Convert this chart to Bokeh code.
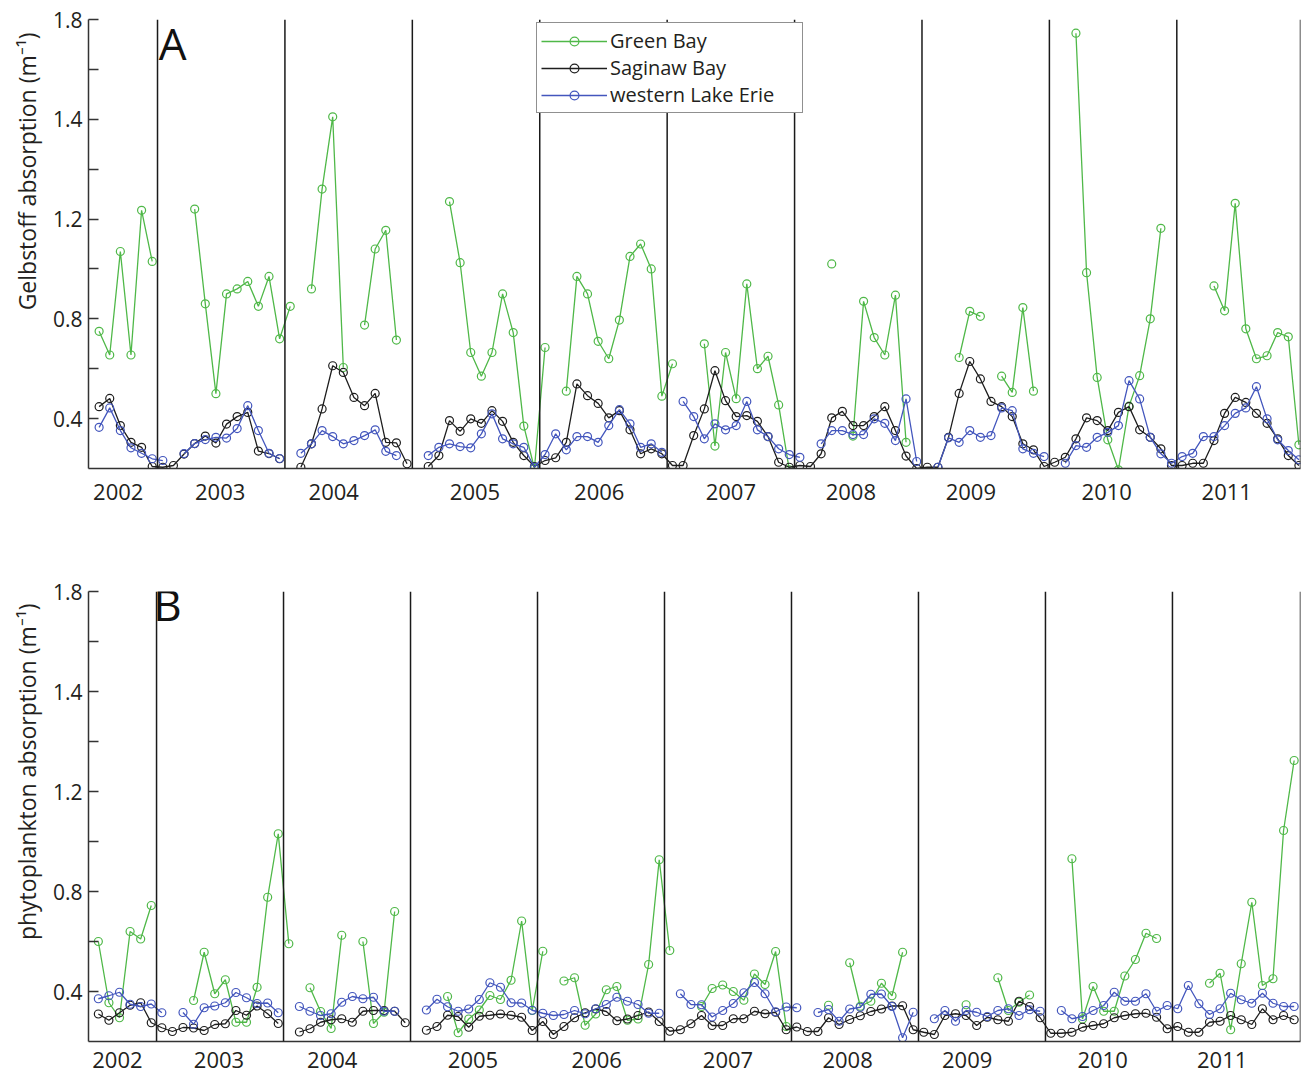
import math
import numpy as np
from bokeh.plotting import figure
from bokeh.layouts import column
from bokeh.models import FixedTicker, Span, Legend, LegendItem, Label, Title
from bokeh.embed import file_html
from bokeh.resources import INLINE

NA = None

# month index: 0 = Jan 2002 ; data run Jul 2002 (6) .. Dec 2011 (119)
months = list(range(6, 120))

year_labels = ["2002", "2003", "2004", "2005", "2006", "2007", "2008", "2009", "2010", "2011"]
year_tick_pos = [7.8, 17.4, 28.1, 41.4, 53.1, 65.5, 76.8, 88.1, 100.9, 112.2]
year_bounds = [11.5, 23.5, 35.5, 47.5, 59.5, 71.5, 83.5, 95.5, 107.5]

y_tick_values = [0.4, 0.6, 0.8, 1.0, 1.2, 1.4, 1.6, 1.8, 2.0]
y_tick_labels = ["0.4", "", "0.8", "", "1.2", "", "1.4", "", "1.8"]

series_names = ["Green Bay", "Saginaw Bay", "western Lake Erie"]

# ---- Panel A: Gelbstoff absorption ----
gelb_green = [
    0.75, 0.655, 1.07, 0.655, 1.235, 1.03,
    NA, NA, NA, 1.24, 0.86, 0.50, 0.90, 0.92, 0.95, 0.85, 0.97, 0.72,
    0.85, NA, 0.92, 1.32, 1.61, 0.605, NA, 0.775, 1.08, 1.155, 0.715, NA,
    NA, NA, NA, 1.27, 1.025, 0.665, 0.57, 0.665, 0.90, 0.745, 0.37, 0.20,
    0.685, NA, 0.51, 0.97, 0.90, 0.71, 0.64, 0.795, 1.05, 1.10, 1.00, 0.49,
    0.62, NA, NA, 0.70, 0.29, 0.665, 0.48, 0.94, 0.60, 0.65, 0.455, 0.195,
    NA, NA, NA, 1.02, NA, 0.33, 0.87, 0.725, 0.655, 0.895, 0.305, NA,
    NA, NA, NA, 0.645, 0.83, 0.81, NA, 0.57, 0.505, 0.845, 0.51, NA,
    NA, NA, 1.945, 0.985, 0.565, 0.315, 0.195, 0.45, 0.572, 0.80, 1.163, NA,
    NA, NA, NA, 0.932, 0.832, 1.263, 0.76, 0.64, 0.652, 0.745, 0.728, 0.295,
]
gelb_black = [
    0.448, 0.481, 0.372, 0.305, 0.285, 0.208,
    0.205, 0.212, 0.258, 0.30, 0.33, 0.302, 0.378, 0.408, 0.425, 0.27, 0.26, 0.239,
    NA, 0.205, 0.299, 0.439, 0.612, 0.585, 0.485, 0.452, 0.501, 0.305, 0.303, 0.219,
    NA, 0.208, 0.252, 0.392, 0.349, 0.399, 0.381, 0.432, 0.389, 0.305, 0.252, 0.208,
    0.232, 0.243, 0.305, 0.539, 0.492, 0.461, 0.403, 0.432, 0.355, 0.259, 0.279, 0.259,
    0.212, 0.212, 0.332, 0.439, 0.592, 0.472, 0.408, 0.412, 0.389, 0.328, 0.225, 0.205,
    0.212, 0.208, 0.259, 0.403, 0.429, 0.372, 0.372, 0.408, 0.448, 0.352, 0.25, 0.20,
    0.205, 0.205, 0.325, 0.501, 0.629, 0.559, 0.469, 0.448, 0.408, 0.299, 0.275, 0.208,
    0.225, 0.245, 0.319, 0.403, 0.392, 0.352, 0.425, 0.448, 0.355, 0.325, 0.279, 0.212,
    0.212, 0.221, 0.221, 0.312, 0.421, 0.485, 0.465, 0.421, 0.381, 0.319, 0.252, 0.212,
]
gelb_blue = [
    0.365, 0.443, 0.352, 0.283, 0.261, 0.239,
    0.232, NA, 0.26, 0.30, 0.316, 0.325, 0.322, 0.36, 0.452, 0.352, 0.261, 0.24,
    NA, 0.261, 0.299, 0.352, 0.328, 0.299, 0.312, 0.332, 0.355, 0.269, 0.252, NA,
    NA, 0.252, 0.285, 0.299, 0.288, 0.283, 0.339, 0.419, 0.319, 0.299, 0.285, 0.205,
    0.256, 0.339, 0.275, 0.328, 0.328, 0.305, 0.372, 0.436, 0.379, 0.285, 0.299, 0.265,
    NA, 0.469, 0.408, 0.319, 0.379, 0.355, 0.372, 0.469, 0.355, 0.328, 0.279, 0.256,
    0.245, NA, 0.299, 0.352, 0.352, 0.336, 0.336, 0.399, 0.381, 0.312, 0.479, 0.228,
    NA, 0.205, 0.323, 0.305, 0.352, 0.325, 0.332, 0.443, 0.432, 0.279, 0.261, 0.248,
    NA, 0.221, 0.292, 0.285, 0.325, 0.345, 0.372, 0.552, 0.479, 0.325, 0.259, 0.221,
    0.248, 0.261, 0.328, 0.328, 0.372, 0.421, 0.443, 0.528, 0.399, 0.315, 0.272, 0.235,
]

# ---- Panel B: phytoplankton absorption ----
phyto_green = [
    0.60, 0.355, 0.295, 0.64, 0.61, 0.744,
    NA, NA, NA, 0.364, 0.557, 0.391, 0.447, 0.277, 0.277, 0.417, 0.777, 1.031,
    0.591, NA, 0.415, 0.32, 0.252, 0.625, NA, 0.60, 0.272, 0.317, 0.72, NA,
    NA, NA, NA, 0.38, 0.235, 0.29, 0.326, 0.384, 0.368, 0.445, 0.682, 0.324,
    0.561, NA, 0.442, 0.455, 0.265, 0.31, 0.407, 0.42, 0.285, 0.29, 0.508, 0.927,
    0.564, NA, NA, 0.34, 0.412, 0.426, 0.40, 0.365, 0.47, 0.428, 0.56, 0.26,
    NA, NA, NA, 0.345, NA, 0.515, 0.341, 0.361, 0.433, 0.383, 0.557, NA,
    NA, NA, NA, NA, 0.347, NA, NA, 0.455, 0.324, 0.357, 0.386, NA,
    NA, NA, 0.931, 0.29, 0.42, 0.321, 0.321, 0.462, 0.528, 0.633, 0.612, NA,
    NA, NA, NA, 0.433, 0.473, 0.247, 0.511, 0.757, 0.424, 0.451, 1.044, 1.324,
]
phyto_black = [
    0.31, 0.285, 0.315, 0.345, 0.355, 0.275,
    0.255, 0.24, 0.256, 0.254, 0.244, 0.268, 0.271, 0.324, 0.305, 0.342, 0.311, 0.272,
    NA, 0.238, 0.251, 0.277, 0.287, 0.291, 0.277, 0.321, 0.324, 0.324, 0.321, 0.275,
    NA, 0.245, 0.26, 0.305, 0.30, 0.257, 0.301, 0.305, 0.31, 0.305, 0.297, 0.244,
    0.28, 0.228, 0.26, 0.295, 0.315, 0.33, 0.32, 0.283, 0.29, 0.304, 0.318, 0.28,
    0.241, 0.247, 0.271, 0.304, 0.264, 0.264, 0.291, 0.291, 0.321, 0.311, 0.317, 0.247,
    0.258, 0.24, 0.24, 0.295, 0.268, 0.288, 0.303, 0.32, 0.33, 0.342, 0.343, 0.247,
    0.237, 0.228, 0.304, 0.311, 0.304, 0.264, 0.297, 0.287, 0.281, 0.361, 0.34, 0.295,
    0.233, 0.233, 0.237, 0.257, 0.264, 0.271, 0.295, 0.304, 0.311, 0.313, 0.297, 0.251,
    0.26, 0.237, 0.237, 0.277, 0.281, 0.304, 0.287, 0.268, 0.331, 0.287, 0.304, 0.287,
]
phyto_blue = [
    0.371, 0.383, 0.397, 0.349, 0.34, 0.35,
    0.315, NA, 0.316, 0.269, 0.335, 0.342, 0.355, 0.396, 0.375, 0.352, 0.354, 0.315,
    NA, 0.34, 0.321, 0.304, 0.311, 0.357, 0.38, 0.371, 0.377, 0.321, 0.321, NA,
    NA, 0.326, 0.369, 0.339, 0.321, 0.33, 0.368, 0.435, 0.417, 0.355, 0.354, 0.325,
    0.313, 0.304, 0.308, 0.324, 0.311, 0.331, 0.348, 0.377, 0.361, 0.348, 0.313, 0.313,
    NA, 0.391, 0.348, 0.347, 0.298, 0.324, 0.352, 0.395, 0.436, 0.391, 0.319, 0.338,
    0.335, NA, 0.316, 0.328, 0.281, 0.33, 0.337, 0.389, 0.39, 0.34, 0.215, 0.317,
    NA, 0.291, 0.324, 0.281, 0.324, 0.317, 0.30, 0.324, 0.331, 0.304, 0.327, 0.321,
    NA, 0.324, 0.291, 0.30, 0.324, 0.344, 0.397, 0.361, 0.361, 0.391, 0.321, 0.344,
    0.331, 0.424, 0.351, 0.308, 0.331, 0.393, 0.367, 0.353, 0.393, 0.353, 0.34, 0.34,
]

GREEN = "#4fb848"
BLACK = "#1e1e1e"
BLUE = "#4356bd"
FONT = "Open Sans"
TXT = "#231f20"


def arr(vals):
    return np.array([np.nan if v is None else v for v in vals], dtype=float)


def make_panel(letter, ylabel, series, x_start, x_end, left_border, frame_w, frame_h,
               top_border, bottom_border, x_standoff, letter_x, letter_y, ylabel_offset,
               ylabel_standoff, with_legend):
    p = figure(frame_width=frame_w, frame_height=frame_h, x_range=(x_start, x_end),
               y_range=(0.2, 2.0), output_backend="svg", toolbar_location=None,
               min_border_left=left_border, min_border_right=5,
               min_border_top=top_border, min_border_bottom=bottom_border)
    p.outline_line_color = None
    p.grid.visible = False
    p.background_fill_color = "white"
    p.border_fill_color = "white"

    xa = p.xaxis[0]
    xa.ticker = FixedTicker(ticks=year_tick_pos)
    xa.major_label_overrides = {t: l for t, l in zip(year_tick_pos, year_labels)}
    xa.major_tick_line_color = None
    xa.minor_tick_line_color = None
    xa.axis_line_color = "#333333"
    xa.axis_line_width = 1.5
    xa.major_label_text_font = FONT
    xa.major_label_text_font_size = "22px"
    xa.major_label_text_color = TXT
    xa.major_label_standoff = x_standoff

    ya = p.yaxis[0]
    ya.ticker = FixedTicker(ticks=y_tick_values)
    ya.major_label_overrides = {t: l for t, l in zip(y_tick_values, y_tick_labels)}
    ya.major_tick_in = 10
    ya.major_tick_out = 0
    ya.minor_tick_line_color = None
    ya.major_tick_line_color = "#333333"
    ya.major_tick_line_width = 1.5
    ya.axis_line_color = "#333333"
    ya.axis_line_width = 1.5
    ya.major_label_text_font = FONT
    ya.major_label_text_font_size = "21px"
    ya.major_label_text_color = TXT
    ya.major_label_standoff = 6

    for b in year_bounds + [x_end]:
        p.add_layout(Span(location=b, dimension="height", line_color="#1a1a1a", line_width=1.5))

    items = []
    for name, vals, col in zip(series_names, series, [GREEN, BLACK, BLUE]):
        y = arr(vals)
        l = p.line(months, y, line_color=col, line_width=1.3)
        s = p.scatter(months, y, marker="circle", size=8, line_color=col, line_width=1.2,
                      fill_color=None)
        items.append(LegendItem(label=name, renderers=[l, s]))

    if with_legend:
        lg = Legend(items=items, location=(448, 355), orientation="vertical",
                    border_line_color="#222222", border_line_width=1.2,
                    background_fill_color="white", background_fill_alpha=1.0,
                    label_text_font=FONT, label_text_font_size="20px", label_text_color=TXT,
                    glyph_width=66, glyph_height=22, label_height=22, label_width=188,
                    label_standoff=3, spacing=0, padding=4, margin=0)
        p.add_layout(lg)

    p.add_layout(Label(x=letter_x, y=letter_y, text=letter, text_font=FONT, text_font_size="44px",
                       text_color="#111111", text_baseline="alphabetic", text_align="left"))
    p.add_layout(Title(text=ylabel, align="right", offset=ylabel_offset, text_font=FONT,
                       text_font_size="23px", text_font_style="normal", text_color=TXT,
                       standoff=ylabel_standoff), "left")
    return p


pA = make_panel("A", "Gelbstoff absorption (m\u207b\u00b9)",
                [gelb_green, gelb_black, gelb_blue],
                x_start=5.0, x_end=119.15,
                left_border=88, frame_w=1212, frame_h=449, top_border=19, bottom_border=60,
                x_standoff=9, letter_x=11.62, letter_y=1.905, ylabel_offset=13,
                ylabel_standoff=14, with_legend=True)
pB = make_panel("B", "phytoplankton absorption (m\u207b\u00b9)",
                [phyto_green, phyto_black, phyto_blue],
                x_start=5.07, x_end=119.6,
                left_border=88, frame_w=1212, frame_h=450, top_border=63, bottom_border=31,
                x_standoff=4, letter_x=11.2, letter_y=1.952, ylabel_offset=12,
                ylabel_standoff=14, with_legend=False)

layout = column(pA, pB, spacing=0)
open("out.html", "w").write(file_html(layout, INLINE))
